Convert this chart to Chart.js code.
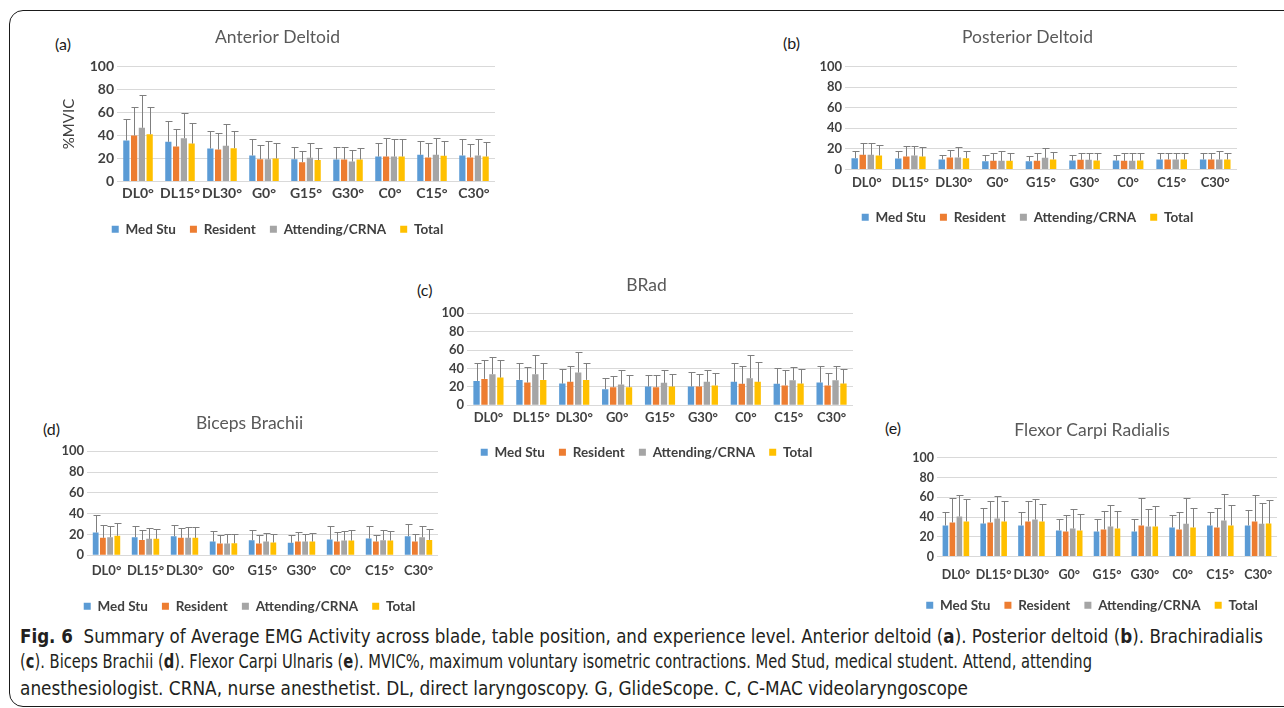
<!DOCTYPE html>
<html>
<head>
<meta charset="utf-8">
<script src="https://cdn.jsdelivr.net/npm/chart.js@4.4.1/dist/chart.umd.min.js"></script>
<style>
  body { margin: 0; width: 1284px; height: 708px; overflow: hidden; background: #fff; position: relative; font-family: Lato, sans-serif; }
  .frame { position: absolute; left: 9px; top: 10px; width: 1320px; height: 695px; border: 1.5px solid #1a1a1a; border-radius: 14px; }
  canvas { position: absolute; }
  .tag { position: absolute; font: 16px Lato, sans-serif; color: #1a1a1a; transform: translateY(-50%); }
  .cap { position: absolute; left: 20px; white-space: nowrap; font: 19px "Liberation Sans Narrow", "DejaVu Sans Condensed", sans-serif; color: #231f20; transform-origin: left center; }
  .cap b { font-weight: bold; }
</style>
</head>
<body>
<div class="frame"></div>

<div class="tag" style="left:55px; top:43px">(a)</div>
<div class="tag" style="left:783px; top:42px">(b)</div>
<div class="tag" style="left:417px; top:289px">(c)</div>
<div class="tag" style="left:43px; top:428px">(d)</div>
<div class="tag" style="left:885px; top:427px">(e)</div>

<canvas id="chartA"></canvas>
<canvas id="chartB"></canvas>
<canvas id="chartC"></canvas>
<canvas id="chartD"></canvas>
<canvas id="chartE"></canvas>

<div class="cap" data-w="1243" style="top:625px"><b>Fig. 6</b>&nbsp; Summary of Average EMG Activity across blade, table position, and experience level. Anterior deltoid (<b>a</b>). Posterior deltoid (<b>b</b>). Brachiradialis</div>
<div class="cap" data-w="1072" style="top:650px">(<b>c</b>). Biceps Brachii (<b>d</b>). Flexor Carpi Ulnaris (<b>e</b>). MVIC%, maximum voluntary isometric contractions. Med Stud, medical student. Attend, attending</div>
<div class="cap" data-w="948" style="top:677px">anesthesiologist. CRNA, nurse anesthetist. DL, direct laryngoscopy. G, GlideScope. C, C-MAC videolaryngoscope</div>

<script>
// ================= DATA =================
const categories = ["DL0°", "DL15°", "DL30°", "G0°", "G15°", "G30°", "C0°", "C15°", "C30°"];
const groups = ["Med Stu", "Resident", "Attending/CRNA", "Total"];
const groupColors = ["#5B9BD5", "#ED7D31", "#A5A5A5", "#FFC000"];
const yTicks = [0, 20, 40, 60, 80, 100];

// rows: Med Stu, Resident, Attending/CRNA, Total
const anteriorDeltoidMean = [
  [35.7, 34.5, 28.7, 22.6, 19.4, 19.1, 21.7, 23.2, 22.6],
  [40.0, 30.4, 27.8, 19.4, 16.8, 19.1, 21.7, 20.9, 20.9],
  [46.7, 37.7, 31.0, 19.4, 20.6, 17.4, 21.7, 23.2, 22.6],
  [41.0, 33.0, 29.0, 20.0, 18.6, 19.1, 21.7, 22.3, 21.7],
];
const anteriorDeltoidSd = [
  [18.8, 18.5, 14.8, 14.2, 10.2, 10.8, 11.6, 11.8, 14.2],
  [24.6, 15.4, 14.5, 12.5, 9.6, 10.8, 16.0, 13.0, 11.3],
  [28.1, 21.7, 18.6, 15.6, 13.0, 10.1, 15.1, 14.5, 14.2],
  [24.0, 18.3, 15.0, 13.6, 10.1, 10.2, 15.1, 12.7, 12.5],
];

const posteriorDeltoidMean = [
  [11.0, 10.7, 9.7, 8.1, 8.1, 8.7, 8.7, 9.7, 9.7],
  [14.2, 12.6, 11.7, 8.4, 8.4, 9.4, 8.4, 9.7, 9.7],
  [14.2, 13.6, 11.7, 8.4, 11.3, 9.4, 8.4, 9.7, 9.7],
  [13.6, 12.6, 11.0, 8.4, 9.7, 8.7, 8.7, 9.7, 9.7],
];
const posteriorDeltoidSd = [
  [6.5, 6.8, 4.3, 5.8, 4.9, 5.2, 5.2, 6.2, 6.8],
  [11.4, 10.4, 7.7, 8.1, 7.5, 6.5, 7.5, 6.8, 6.8],
  [11.4, 9.4, 9.7, 9.1, 9.1, 7.1, 7.5, 6.8, 7.8],
  [10.4, 9.4, 7.4, 7.5, 7.1, 7.2, 7.2, 6.8, 6.8],
];

const bradMean = [
  [26.4, 27.5, 23.5, 17.4, 20.3, 20.3, 25.4, 23.2, 24.6],
  [28.6, 24.6, 25.4, 19.6, 19.6, 20.3, 23.2, 21.4, 21.4],
  [33.7, 33.7, 35.5, 22.5, 24.3, 25.4, 29.3, 27.2, 27.2],
  [30.0, 27.5, 27.5, 19.6, 20.3, 21.4, 25.4, 23.5, 23.5],
];
const bradSd = [
  [20.0, 18.9, 16.0, 11.9, 13.0, 16.3, 21.0, 17.4, 18.4],
  [20.7, 17.4, 17.6, 12.6, 13.7, 14.1, 19.8, 17.0, 14.1],
  [18.8, 21.0, 22.1, 15.9, 14.1, 13.0, 25.4, 14.8, 15.8],
  [19.3, 18.9, 18.9, 13.7, 14.1, 14.1, 22.1, 16.0, 16.0],
];

const bicepsMean = [
  [21.8, 17.3, 18.3, 13.1, 14.4, 11.9, 15.0, 16.0, 18.3],
  [16.7, 14.7, 16.7, 11.2, 11.2, 13.1, 13.1, 13.1, 13.1],
  [17.3, 15.7, 16.7, 11.2, 13.1, 13.1, 14.1, 14.4, 17.3],
  [18.6, 15.7, 16.7, 11.5, 12.2, 13.1, 14.1, 14.1, 14.7],
];
const bicepsSd = [
  [17.2, 11.2, 11.2, 10.3, 9.6, 7.3, 12.6, 11.6, 11.8],
  [12.8, 9.3, 9.3, 8.0, 8.0, 9.3, 9.3, 6.8, 7.7],
  [11.2, 10.3, 10.3, 9.6, 8.7, 7.7, 9.3, 9.6, 11.2],
  [12.4, 9.6, 10.3, 9.3, 8.6, 8.7, 10.3, 8.7, 10.3],
];

const flexorMean = [
  [31.4, 33.4, 31.4, 26.4, 25.3, 25.3, 29.4, 31.4, 31.4],
  [34.5, 34.5, 35.5, 25.3, 27.4, 31.4, 27.4, 29.4, 35.5],
  [40.5, 38.5, 37.5, 28.4, 30.4, 30.4, 33.1, 36.5, 33.1],
  [35.5, 35.5, 35.5, 26.4, 28.4, 30.4, 29.4, 31.4, 33.4],
];
const flexorSd = [
  [13.2, 15.9, 13.2, 12.1, 13.2, 13.2, 12.8, 13.9, 15.9],
  [25.0, 21.9, 20.9, 16.9, 18.9, 28.1, 17.9, 19.9, 26.7],
  [21.7, 23.0, 20.3, 19.9, 22.0, 17.9, 26.4, 27.0, 21.3],
  [22.3, 20.9, 17.9, 16.8, 17.9, 21.0, 19.9, 21.0, 24.0],
];

// ================= ERROR BARS =================
const errorBars = {
  id: "errorBars",
  afterDatasetsDraw(chart) {
    const ctx = chart.ctx;
    const y = chart.scales.y;
    ctx.save();
    ctx.strokeStyle = "#7f7f7f";
    ctx.lineWidth = 1;
    chart.data.datasets.forEach((ds, i) => {
      chart.getDatasetMeta(i).data.forEach((bar, j) => {
        const top = Math.round(y.getPixelForValue(ds.data[j] + ds.sd[j])) + 0.5;
        const x = Math.round(bar.x) + 0.5;
        ctx.beginPath();
        ctx.moveTo(x, bar.y);
        ctx.lineTo(x, top);
        ctx.moveTo(x - 3, top);
        ctx.lineTo(x + 4, top);
        ctx.stroke();
      });
    });
    ctx.restore();
  },
};

Chart.defaults.font.family = "Lato, sans-serif";
const LEGEND_PAD = 14;
const LEGEND_FONT = 13.5;
const TITLE_FONT = 17.5;

// ================= PANEL =================
function makePanel(id, title, mean, sd, box, yTitle) {
  const titleLH = TITLE_FONT * 1.2;
  const T = box.titleY - titleLH / 2;
  const B = box.legendY + (23 - LEGEND_FONT / 2) - 0.5;
  const el = document.getElementById(id);
  el.width = box.right - box.left;
  el.height = Math.round(B - T);
  el.style.left = box.left + "px";
  el.style.top = T + "px";

  const legendH = LEGEND_FONT + 10 + LEGEND_PAD;
  const xH = el.height + T - legendH - box.plotBottom;
  const tickPad = box.tickY - box.plotBottom - box.fs * 0.6;
  const yW = box.plotLeft - box.left;

  return new Chart(el, {
    type: "bar",
    data: {
      labels: categories,
      datasets: groups.map((g, i) => ({
        label: g,
        data: mean[i],
        sd: sd[i],
        backgroundColor: groupColors[i],
        borderWidth: 0,
        categoryPercentage: 0.74,
        barPercentage: 0.8,
      })),
    },
    options: {
      responsive: false,
      animation: false,
      layout: { padding: { left: 0, right: box.right - box.plotRight, top: 0, bottom: 0 } },
      plugins: {
        title: {
          display: true,
          text: title,
          color: "#595959",
          font: { size: TITLE_FONT, weight: "normal" },
          padding: { top: 0, bottom: box.plotTop - T - titleLH },
        },
        legend: {
          position: "bottom",
          labels: {
            boxWidth: 7,
            boxHeight: 7,
            padding: LEGEND_PAD,
            color: "#404040",
            font: { size: LEGEND_FONT, weight: "bold" },
          },
        },
        tooltip: { enabled: false },
      },
      scales: {
        x: {
          grid: { display: false, drawTicks: false },
          border: { display: false },
          ticks: {
            color: "#404040",
            font: { size: box.fs, weight: "bold" },
            padding: tickPad,
            maxRotation: 0,
            minRotation: 0,
            autoSkip: false,
          },
          afterFit: (s) => { s.height = xH; },
        },
        y: {
          min: 0,
          max: 100,
          afterBuildTicks: (s) => { s.ticks = yTicks.map((v) => ({ value: v })); },
          grid: { color: "#d9d9d9", drawTicks: false },
          border: { display: false },
          ticks: {
            color: "#404040",
            font: { size: box.fs, weight: "bold" },
            padding: 3,
            autoSkip: false,
          },
          title: yTitle
            ? { display: true, text: yTitle, color: "#404040", font: { size: 15 }, padding: 0 }
            : { display: false },
          afterFit: (s) => { s.width = yW; },
        },
      },
    },
    plugins: [errorBars],
  });
}

makePanel("chartA", "Anterior Deltoid", anteriorDeltoidMean, anteriorDeltoidSd,
  { left: 60, right: 498, titleY: 37, plotLeft: 117, plotRight: 495, plotTop: 66, plotBottom: 181, tickY: 193, legendY: 230, fs: 14 }, "%MVIC");
makePanel("chartB", "Posterior Deltoid", posteriorDeltoidMean, posteriorDeltoidSd,
  { left: 818, right: 1270, titleY: 37, plotLeft: 845, plotRight: 1237, plotTop: 66, plotBottom: 169, tickY: 182, legendY: 218, fs: 13 });
makePanel("chartC", "BRad", bradMean, bradSd,
  { left: 440, right: 874, titleY: 285, plotLeft: 467, plotRight: 853, plotTop: 312.7, plotBottom: 404.7, tickY: 417, legendY: 453, fs: 13 });
makePanel("chartD", "Biceps Brachii", bicepsMean, bicepsSd,
  { left: 61, right: 460, titleY: 423, plotLeft: 87, plotRight: 438, plotTop: 450.7, plotBottom: 554.7, tickY: 570, legendY: 607, fs: 13 });
makePanel("chartE", "Flexor Carpi Radialis", flexorMean, flexorSd,
  { left: 907, right: 1284, titleY: 430, plotLeft: 937, plotRight: 1277, plotTop: 457.3, plotBottom: 556, tickY: 574, legendY: 606, fs: 12.5 });

// caption lines stretched to the widths of the printed lines
document.querySelectorAll(".cap").forEach((c) => {
  const w = c.getBoundingClientRect().width;
  c.style.transform = "scaleX(" + (Number(c.dataset.w) / w) + ")";
});
</script>
</body>
</html>
